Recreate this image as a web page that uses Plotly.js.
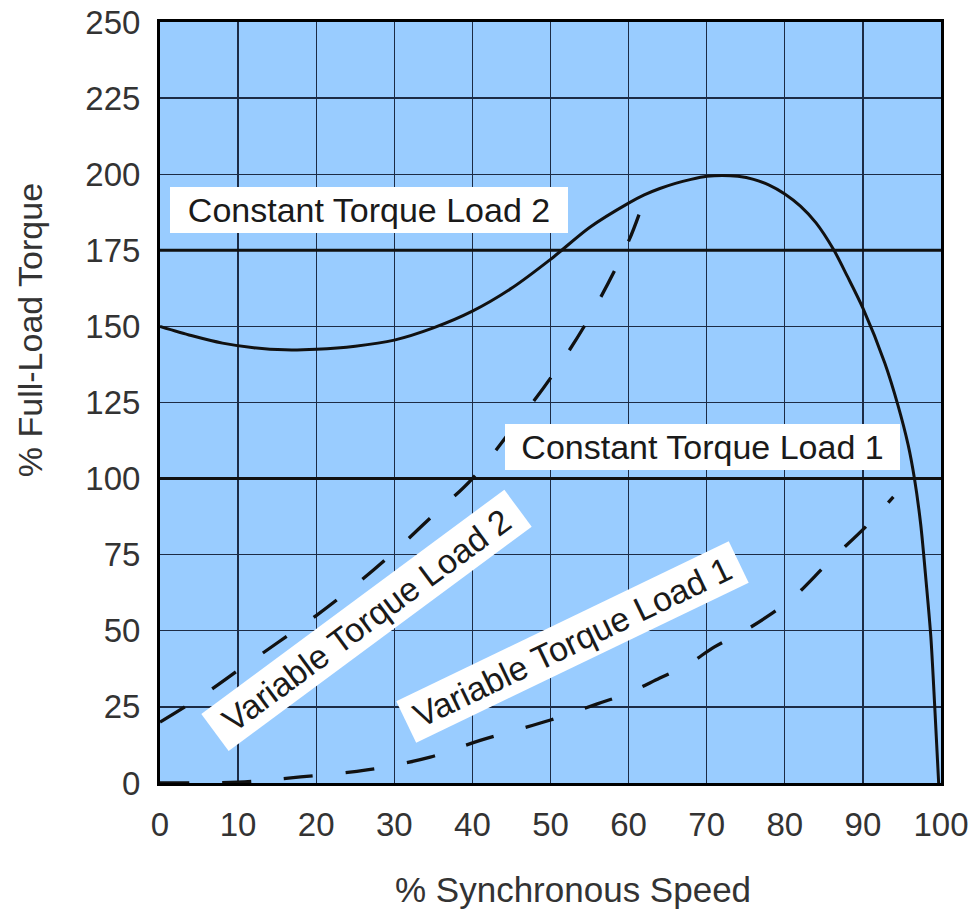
<!DOCTYPE html>
<html>
<head>
<meta charset="utf-8">
<script src="https://cdn.plot.ly/plotly-3.0.1.min.js"></script>
<style>
  html, body { margin: 0; padding: 0; background: #ffffff; }
  #chart { width: 974px; height: 911px; }
</style>
</head>
<body>
<div id="chart"></div>
<script>
// Motor speed-torque curve (% synchronous speed vs % full-load torque)
const motorSpeed  = [0, 4, 8, 12, 16, 20, 25, 30, 35, 40, 45, 50, 55, 60, 62, 64, 66, 68, 70, 72, 74, 76, 78, 80, 82, 84, 86.3, 88, 90, 92.8, 94.5, 95.8, 96.6, 97.4, 98.1, 98.7, 99.2, 99.7];
const motorTorque = [150, 147, 144.5, 143, 142.3, 142.5, 143.5, 145.5, 149.5, 155, 162.5, 172, 182.5, 190.5, 193.2, 195.3, 197, 198.3, 199.3, 199.6, 199.3, 198.3, 196.4, 193.5, 189.5, 184, 175, 166.5, 156, 138, 124, 111, 100, 85, 66, 48, 25, 0];

// Variable torque load 2 (dashed)
const vt2Speed  = [0, 5, 10, 15, 20, 25, 30, 35, 40, 45, 50, 55, 60, 62.3];
const vt2Torque = [20, 28, 37, 46, 55, 65, 76, 88, 100, 116, 133, 153, 178, 194];

// Variable torque load 1 (dashed)
const vt1Speed  = [0, 10, 18, 26.5, 34.6, 41, 50, 56, 60, 64, 67.5, 71, 74.6, 78.4, 80.7, 85.8, 90.6, 93.9];
const vt1Torque = [0, 0.3, 2, 4.3, 8.5, 14, 20.7, 26, 29.6, 34.5, 38.8, 44.7, 49.6, 55.8, 60, 73, 84.8, 94];

// Constant torque loads
const constSpeed = [0, 100];
const constLoad1 = [100, 100];
const constLoad2 = [175, 175];

// Tick labels
const xTicks = [0, 10, 20, 30, 40, 50, 60, 70, 80, 90, 100];
const yTicks = [0, 25, 50, 75, 100, 125, 150, 175, 200, 225, 250];

// Labels
const labelText = ["Constant Torque Load 2", "Constant Torque Load 1", "Variable Torque Load 2", "Variable Torque Load 1"];
const labelX = [26.8, 69.4, 26.5, 52.8];
const labelY = [188.2, 110.4, 53.5, 46.3];
const labelAngle = [0, 0, -36.5, -25.7];
const labelWidth = [396, 393, 375, 367];

const FONT = '"Liberation Sans", Arial, Helvetica, sans-serif';

const traces = [
  { x: constSpeed, y: constLoad2, mode: 'lines', line: { color: '#111111', width: 3 }, hoverinfo: 'skip' },
  { x: constSpeed, y: constLoad1, mode: 'lines', line: { color: '#111111', width: 3 }, hoverinfo: 'skip' },
  { x: vt2Speed, y: vt2Torque, mode: 'lines', line: { color: '#111111', width: 3.3, dash: '29px,33px', shape: 'spline', smoothing: 1 }, hoverinfo: 'skip' },
  { x: vt1Speed, y: vt1Torque, mode: 'lines', line: { color: '#111111', width: 3.3, dash: '29px,33px', shape: 'spline', smoothing: 1 }, hoverinfo: 'skip' },
  { x: motorSpeed, y: motorTorque, mode: 'lines', line: { color: '#111111', width: 3, shape: 'spline', smoothing: 0.8 }, hoverinfo: 'skip' }
];

const annotations = labelText.map((t, i) => ({
  text: t, x: labelX[i], y: labelY[i], xref: 'x', yref: 'y',
  xanchor: 'center', yanchor: 'middle', showarrow: false,
  textangle: labelAngle[i], bgcolor: '#ffffff', borderpad: 1, borderwidth: 0,
  width: labelWidth[i], height: 44, align: 'center',
  font: { family: FONT, size: 34, color: '#1a1a1a' }
}));

annotations.push({
  text: '% Synchronous Speed', xref: 'paper', yref: 'paper', x: 0.529, y: -0.1406,
  xanchor: 'center', yanchor: 'middle', showarrow: false,
  font: { family: FONT, size: 35, color: '#333333' }
});
annotations.push({
  text: '% Full-Load Torque', xref: 'paper', yref: 'paper', x: -0.1665, y: 0.595,
  xanchor: 'center', yanchor: 'middle', showarrow: false, textangle: -90,
  font: { family: FONT, size: 34, color: '#333333' }
});

const layout = {
  width: 974, height: 911,
  margin: { l: 160, r: 33, t: 22, b: 128 },
  paper_bgcolor: '#ffffff',
  plot_bgcolor: '#99ccff',
  showlegend: false,
  font: { family: FONT, color: '#333333' },
  xaxis: {
    range: [0, 100], tickmode: 'array', tickvals: xTicks, ticktext: xTicks.map(String),
    showgrid: true, gridcolor: '#1c2b45', gridwidth: 1.3,
    zeroline: false, showline: true, linecolor: '#000000', linewidth: 3, mirror: true,
    ticks: '', ticklabelstandoff: 10,
    tickfont: { family: FONT, size: 33, color: '#333333' }
  },
  yaxis: {
    range: [0, 250], tickmode: 'array', tickvals: yTicks, ticktext: yTicks.map(String),
    showgrid: true, gridcolor: '#1c2b45', gridwidth: 1.3,
    zeroline: false, showline: true, linecolor: '#000000', linewidth: 3, mirror: true,
    ticks: '', ticklabelstandoff: 10,
    tickfont: { family: FONT, size: 33, color: '#333333' }
  },
  annotations: annotations
};

Plotly.newPlot('chart', traces, layout, { staticPlot: true, displayModeBar: false });
</script>
</body>
</html>
